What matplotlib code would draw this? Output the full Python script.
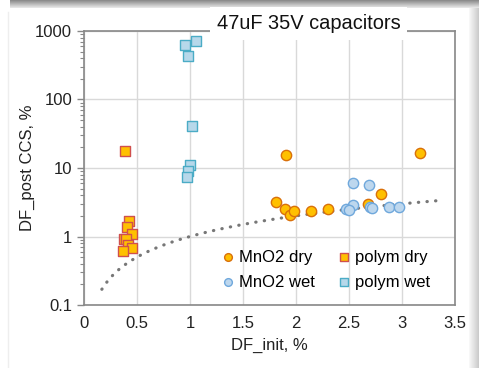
import numpy as np
import matplotlib
matplotlib.use("Agg")
from matplotlib import pyplot as plt
import matplotlib.ticker as ticker

# MnO2 dry
mno2_dry_x = [1.906, 1.81, 1.896, 1.943, 1.98, 2.14, 2.30, 3.17, 2.80, 2.68]
mno2_dry_y = [15.3, 3.24, 2.48, 2.09, 2.39, 2.39, 2.56, 16.4, 4.24, 2.96]

# polymer dry
polym_dry_x = [0.387, 0.43, 0.41, 0.456, 0.38, 0.40, 0.42, 0.456, 0.371]
polym_dry_y = [17.5, 1.67, 1.37, 1.08, 0.91, 0.93, 0.74, 0.68, 0.62]

# MnO2 wet
mno2_wet_x = [2.54, 2.535, 2.47, 2.50, 2.69, 2.70, 2.72, 2.88, 2.97]
mno2_wet_y = [6.06, 2.93, 2.53, 2.45, 5.73, 2.67, 2.59, 2.74, 2.67]

# polymer wet
polym_wet_x = [0.953, 1.057, 0.984, 1.019, 1.003, 0.984, 0.975]
polym_wet_y = [616, 720, 434, 41.5, 11.1, 9.1, 7.3]

# y = x reference line
trend_x = np.linspace(0.17, 3.35, 60)
trend_y = trend_x

x_ticks = [0, 0.5, 1, 1.5, 2, 2.5, 3, 3.5]
x_labels = ['0', '0.5', '1', '1.5', '2', '2.5', '3', '3.5']
y_ticks = [0.1, 1, 10, 100, 1000]
y_labels = ['0.1', '1', '10', '100', '1000']

plt.rcParams['font.family'] = ['Liberation Sans', 'DejaVu Sans']

fig = plt.figure(figsize=(4.79, 3.68), dpi=100)

# background frame shading
bg = fig.add_axes([0, 0, 1, 1], zorder=-10)
bg.set_axis_off()
bg.set_xlim(0, 479)
bg.set_ylim(368, 0)
top = np.linspace(0.55, 0.9, 8)[:, None] * np.ones((1, 460))
bg.imshow(np.dstack([top] * 3), extent=(10, 479, 8, 0), aspect='auto')
right = np.ones((360, 1)) * np.linspace(0.97, 0.8, 10)[None, :]
bg.imshow(np.dstack([right] * 3), extent=(469, 479, 368, 8), aspect='auto')
bg.plot([8, 8], [12, 368], color='#eeeeee', lw=1)

ax = fig.add_axes([0.175, 0.171, 0.775, 0.745])
ax.set_yscale('log')

ax.plot(trend_x, trend_y, linestyle=(0, (0.1, 2.6)), color='#777777', lw=2.3,
        dash_capstyle='round', zorder=2)

ax.scatter(mno2_dry_x, mno2_dry_y, s=55, marker='o', facecolor='#FFC000',
           edgecolor='#D9700A', linewidth=1, label='MnO2 dry', zorder=3)
ax.scatter(mno2_wet_x, mno2_wet_y, s=55, marker='o', facecolor='#BDD7EE',
           edgecolor='#6FA8DC', linewidth=1, label='MnO2 wet', zorder=3)
ax.scatter(polym_dry_x, polym_dry_y, s=55, marker='s', facecolor='#FFC000',
           edgecolor='#D0504D', linewidth=1, label='polym dry', zorder=3)
ax.scatter(polym_wet_x, polym_wet_y, s=55, marker='s', facecolor='#B7D8EA',
           edgecolor='#4BACC6', linewidth=1, label='polym wet', zorder=3)

ax.set_xlim(0, 3.5)
ax.set_ylim(0.1, 1000)
ax.set_xticks(x_ticks)
ax.set_xticklabels(x_labels)
ax.set_yticks(y_ticks)
ax.set_yticklabels(y_labels)
ax.yaxis.set_minor_locator(ticker.LogLocator(base=10, subs=np.arange(2, 10)))
ax.yaxis.set_minor_formatter(ticker.NullFormatter())
ax.tick_params(axis='x', length=0, labelsize=12, pad=8, colors='#222222')
ax.tick_params(axis='y', which='major', length=5, width=1,
               labelsize=12, colors='#222222')
ax.tick_params(axis='y', which='both', color='#888888')
ax.tick_params(axis='y', which='minor', length=3, width=0.8)

ax.grid(True, which='major', color='#d9d9d9', lw=1)
ax.set_axisbelow(True)
for s in ax.spines.values():
    s.set_color('#888888')
    s.set_linewidth(1.2)

ax.set_xlabel('DF_init, %', fontsize=12, color='#222222', labelpad=5)
ax.set_ylabel('DF_post CCS, %', fontsize=12, color='#222222', labelpad=0)

ax.text(0.605, 1.028, '47uF 35V capacitors', transform=ax.transAxes,
        ha='center', va='center', fontsize=14.4, color='#111111',
        bbox=dict(facecolor='white', edgecolor='none', pad=5), zorder=5)

ax.legend(loc='lower right', bbox_to_anchor=(0.96, 0.02), ncol=2, fontsize=12,
          frameon=False, handlelength=0.8, handletextpad=0.25,
          columnspacing=1.35, markerscale=0.75, labelspacing=0.6,
          borderaxespad=0.2)

fig.savefig('out.png', dpi=100)
